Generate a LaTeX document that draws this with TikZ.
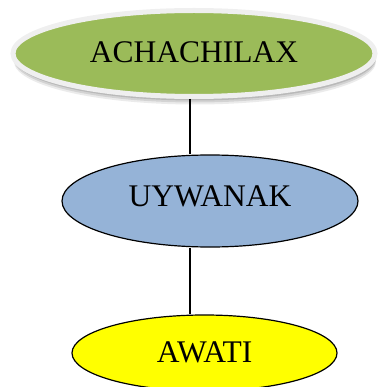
\documentclass[tikz,border=0pt]{standalone}
\usepackage{fontspec}
\setmainfont{Liberation Serif}
\usetikzlibrary{shapes.geometric,shadows}
\definecolor{topgreen}{HTML}{9BBB59}
\definecolor{ringgray}{HTML}{EFEFEF}
\definecolor{midblue}{HTML}{95B3D7}
\definecolor{lowyellow}{HTML}{FFFF00}
\tikzset{
  ellnode/.style={ellipse, inner sep=0pt, font=\fontsize{31.5}{36}\selectfont, text=black},
  topell/.style={ellnode, fill=topgreen, draw=ringgray, line width=5pt,
    general shadow={shadow xshift=1pt, shadow yshift=-8pt, fill=black, opacity=0.08},
    general shadow={shadow xshift=1pt, shadow yshift=-6pt, fill=black, opacity=0.1},
    general shadow={shadow xshift=1pt, shadow yshift=-4pt, fill=black, opacity=0.12}},
  midell/.style={ellnode, fill=midblue, draw=black, line width=1.2pt},
  lowell/.style={ellnode, fill=lowyellow, draw=black, line width=1.2pt},
  conn/.style={draw=black, line width=1.5pt}
}
\begin{document}
\begin{tikzpicture}[x=1pt,y=1pt]
\useasboundingbox (0,0) rectangle (378,-387);
\coordinate (ax) at (190,0);
\node[topell, minimum width=362pt, minimum height=86pt, text depth=3pt] (a) at (194,-53.5) {ACHACHILAX};
\node[midell, minimum width=296pt, minimum height=92pt, text depth=10pt] (b) at (210,-201) {UYWANAK};
\node[lowell, minimum width=265pt, minimum height=76pt, text depth=1pt] (c) at (204.5,-353) {AWATI};
\draw[conn] (a.south -| ax) -- (b.north -| ax);
\draw[conn] (b.south -| ax) -- (c.north -| ax);
\end{tikzpicture}
\end{document}
